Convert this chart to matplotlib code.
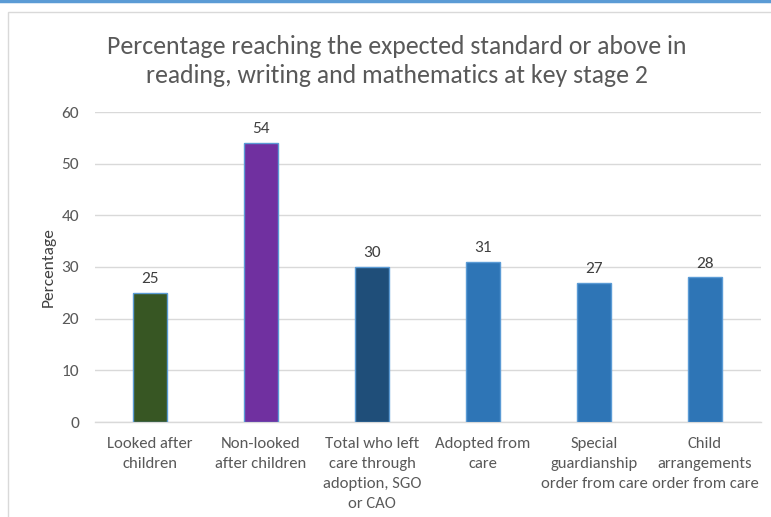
"""
KS2 attainment bar chart: looked after vs. non-looked after vs. left care
"""
import matplotlib.pyplot as plt
from matplotlib.patches import Rectangle
from matplotlib.lines import Line2D

plt.rcParams['font.family'] = ['Carlito', 'Liberation Sans', 'DejaVu Sans']

# ============================================================
# Data
# ============================================================
categories = ['Looked after\nchildren',
              'Non-looked\nafter children',
              'Total who left\ncare through\nadoption, SGO\nor CAO',
              'Adopted from\ncare',
              'Special\nguardianship\norder from care',
              'Child\narrangements\norder from care']
values = [25, 54, 30, 31, 27, 28]
bar_colors = ['#375623', '#7030A0', '#1F4E79', '#2E75B6', '#2E75B6', '#2E75B6']
yticks = [0, 10, 20, 30, 40, 50, 60]

title = ('Percentage reaching the expected standard or above in\n'
         'reading, writing and mathematics at key stage 2')

# ============================================================
# Figure
# ============================================================
fig = plt.figure(figsize=(7.71, 5.17), dpi=100)

# outer decorations: blue top rule and grey chart-area frame
fig.add_artist(Line2D([0, 1], [0.998, 0.998], color='#5B9BD5', linewidth=2.5,
                      transform=fig.transFigure))
fig.add_artist(Rectangle((8 / 771, -0.05), 1.0, 1 - 12 / 517 + 0.05,
                         transform=fig.transFigure, fill=False,
                         edgecolor='#D9D9D9', linewidth=1.0))

ax = fig.add_axes([94.5 / 771, 1 - 422 / 517, 666 / 771, 310 / 517])

x = range(len(categories))
bars = ax.bar(x, values, width=0.31, color=bar_colors,
              edgecolor='#5B9BD5', linewidth=1.0, zorder=3)

for xi, v in zip(x, values):
    ax.text(xi, v + 1.3, str(v), ha='center', va='bottom',
            fontsize=12.5, color='#404040')

ax.set_xlim(-0.5, len(categories) - 0.5)
ax.set_ylim(0, 60)
ax.set_yticks(yticks)
ax.set_xticks(list(x))
ax.set_xticklabels(categories, fontsize=12, color='#595959', linespacing=1.55)
ax.tick_params(axis='y', labelsize=12.5, labelcolor='#595959', length=0, pad=11)
ax.tick_params(axis='x', length=0, pad=11)

ax.grid(axis='y', color='#D9D9D9', linewidth=1.0, zorder=0)
ax.set_axisbelow(True)
for side in ['top', 'right', 'left']:
    ax.spines[side].set_visible(False)
ax.spines['bottom'].set_color('#D9D9D9')
ax.spines['bottom'].set_linewidth(1.0)

ax.set_ylabel('Percentage', fontsize=12.5, color='#404040', labelpad=4)

fig.text(397 / 771, 1 - 61 / 517, title, ha='center', va='center',
         fontsize=18.5, color='#595959', linespacing=1.35)

plt.savefig('out.png', dpi=100)
plt.close()
